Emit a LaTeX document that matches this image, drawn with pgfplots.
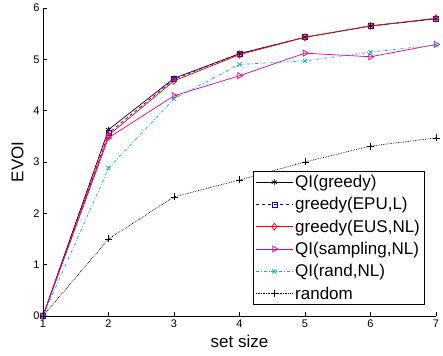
\documentclass[border=0pt]{standalone}
\usepackage{fontspec}
\setmainfont{Liberation Sans}
\usepackage{pgfplots}
\pgfplotsset{compat=1.18}
\begin{document}
\begin{tikzpicture}
\begin{axis}[
  scale only axis,
  width=393pt, height=308pt,
  xmin=1, xmax=7, ymin=0, ymax=6,
  xtick={1,2,3,4,5,6,7}, ytick={0,1,2,3,4,5,6},
  axis lines*=left,
  tick align=inside,
  major tick length=4pt,
  axis line style={line width=0.6pt},
  tick style={line width=0.6pt,black},
  /pgf/number format/assume math mode=true,
  ticklabel style={font=\fontsize{11}{12}\selectfont},
  xlabel={set size}, ylabel={EVOI},
  label style={font=\fontsize{17}{19}\selectfont},
  xlabel style={yshift=-1pt},
  ylabel style={yshift=3pt},
  legend style={at={(0.97,0.036)}, anchor=south east, draw=black, line width=0.6pt,
    font=\fontsize{17}{19}\selectfont, inner sep=2pt, row sep=4.5pt, cells={anchor=west}},
  legend image code/.code={
    \draw[mark repeat=2,mark phase=2,#1] plot coordinates {(0cm,0cm) (0.65cm,0cm) (1.3cm,0cm)};},
  every axis plot/.append style={line width=0.7pt},
  clip=false,
]
\addplot[black, mark=asterisk, mark size=3pt] coordinates {(1,0) (2,3.63) (3,4.63) (4,5.11) (5,5.43) (6,5.65) (7,5.79)};
\addlegendentry{QI(greedy)}
\addplot[blue, dashed, mark=square, mark size=2.5pt, mark options={solid}] coordinates {(1,0) (2,3.56) (3,4.61) (4,5.11) (5,5.43) (6,5.65) (7,5.79)};
\addlegendentry{greedy(EPU,L)}
\addplot[red, mark=diamond, mark size=3.5pt] coordinates {(1,0) (2,3.52) (3,4.58) (4,5.09) (5,5.43) (6,5.65) (7,5.80)};
\addlegendentry{greedy(EUS,NL)}
\addplot[magenta, mark=triangle, mark size=3.5pt, mark options={rotate=-90}] coordinates {(1,0) (2,3.47) (3,4.29) (4,4.68) (5,5.12) (6,5.05) (7,5.29)};
\addlegendentry{QI(sampling,NL)}
\addplot[cyan, dash dot, mark=x, mark size=3pt, mark options={solid}] coordinates {(1,0) (2,2.88) (3,4.23) (4,4.90) (5,4.97) (6,5.14) (7,5.28)};
\addlegendentry{QI(rand,NL)}
\addplot[black, densely dotted, mark=+, mark size=3.5pt, mark options={solid}] coordinates {(1,0) (2,1.50) (3,2.32) (4,2.65) (5,3.00) (6,3.31) (7,3.47)};
\addlegendentry{random}
\end{axis}
\useasboundingbox (current axis.south west) ++(-43pt,-40pt) rectangle ([shift={(7pt,8pt)}]current axis.north east);
\end{tikzpicture}
\end{document}
